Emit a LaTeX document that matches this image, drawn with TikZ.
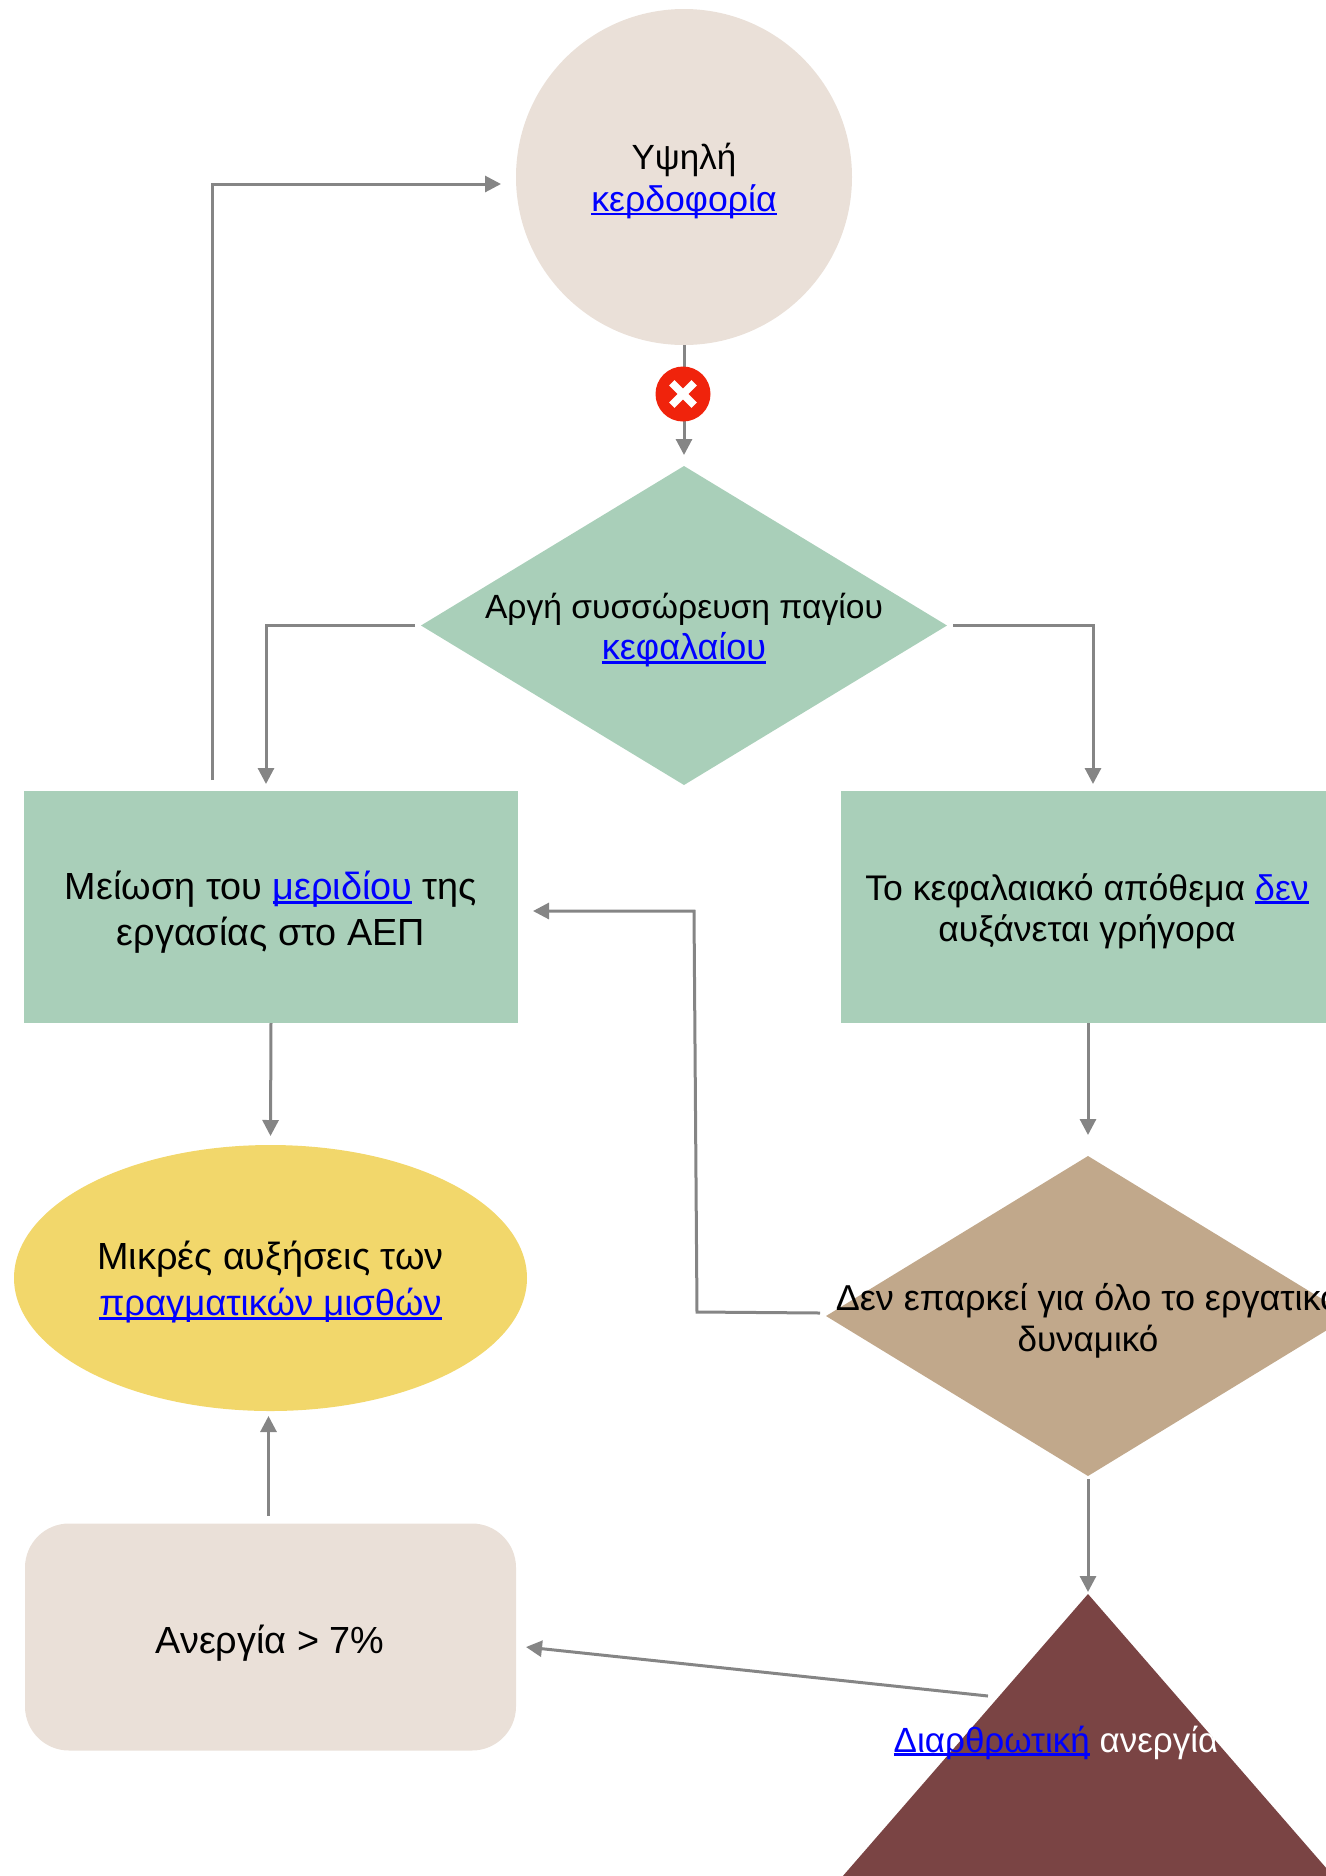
\documentclass[tikz,border=0pt]{standalone}
\usepackage{fontspec}
\setmainfont{Liberation Sans}
\usetikzlibrary{shapes.geometric,arrows.meta}
\definecolor{cgreen}{HTML}{A9CFB9}
\definecolor{cbeige}{HTML}{EAE0D8}
\definecolor{ctan}{HTML}{C1A88B}
\definecolor{cyellow}{HTML}{F2D76B}
\definecolor{cmaroon}{HTML}{7A4444}
\definecolor{cgrey}{HTML}{858585}
\definecolor{cred}{HTML}{F0230C}
\definecolor{clink}{HTML}{0000FF}
\newsavebox{\lnkbox}
\newcommand{\lnk}[1]{\sbox{\lnkbox}{#1}{\color{clink}\rlap{\rule[-0.11em]{\wd\lnkbox}{0.07em}}#1}}
\tikzset{
  shp/.style={inner sep=0pt,outer sep=0pt,draw=none},
  txt/.style={inner sep=0pt,align=center,text=black},
  big/.style={font=\fontsize{18.9}{23}\selectfont},
  small/.style={font=\fontsize{17.5}{20.7}\selectfont},
  conn/.style={draw=cgrey,line width=1.5pt,-{Triangle[width=8pt,length=8pt]}},
}
\begin{document}
\begin{tikzpicture}[x=0.5pt,y=-0.5pt]
\useasboundingbox (0,0) rectangle (1326,1876);
\clip (0,0) rectangle (1326,1876);
% shapes
\node[shp,circle,fill=cbeige,minimum size=168pt] (c) at (684,177) {};
\node[shp,diamond,fill=cgreen,minimum width=263pt,minimum height=159.5pt] (d1) at (684,625.5) {};
\node[shp,rectangle,fill=cgreen,minimum width=247pt,minimum height=116pt] (r1) at (271,907) {};
\node[shp,rectangle,fill=cgreen,minimum width=246pt,minimum height=116pt] (r2) at (1087,907) {};
\node[shp,ellipse,fill=cyellow,minimum width=256.5pt,minimum height=133pt] (e) at (270.5,1278) {};
\node[shp,diamond,fill=ctan,minimum width=262pt,minimum height=160pt] (d2) at (1088,1316) {};
\node[shp,rectangle,rounded corners=22pt,fill=cbeige,minimum width=245.5pt,minimum height=113.5pt] (rr) at (270.5,1637) {};
\coordinate (t) at (1088,1594);
\fill[cmaroon] (t) -- (822,1900) -- (1354,1900) -- cycle;
% texts
\node[txt,small] (ct) at (684,181) {Υψηλή\\{\fontsize{17.8}{20.7}\selectfont\lnk{κερδοφορία}}};
\node[txt,font=\fontsize{18}{20.7}\selectfont] (d1t) at (684,630) {{\fontsize{16.8}{20.7}\selectfont Αργή συσσώρευση παγίου}\\\lnk{κεφαλαίου}};
\node[txt,big] (r1t) at (271,912.5) {Μείωση του \lnk{μεριδίου} της\\εργασίας στο ΑΕΠ};
\node[txt,font=\fontsize{17.8}{20.7}\selectfont] (r2t) at (1087,911) {Το κεφαλαιακό απόθεμα \lnk{δεν}\\αυξάνεται γρήγορα};
\node[txt,big] (et) at (270.5,1282.5) {Μικρές αυξήσεις των\\{\fontsize{18.2}{23}\selectfont\lnk{πραγματικών μισθών}}};
\node[txt,font=\fontsize{18}{20.7}\selectfont] (d2t) at (1088,1320.5) {Δεν επαρκεί για όλο το εργατικό\\{\fontsize{17.5}{20.7}\selectfont δυναμικό}};
\node[txt,big] (rrt) at (270,1643.5) {Ανεργία > 7\%};
\node[txt,small,text=white] (tt) at (1056,1742.5) {\lnk{Διαρθρωτική} ανεργία};
% connectors
\draw[conn] (c.south) -- ([yshift=5.5pt]d1.north);
\node[shp,circle,fill=cred,minimum size=27.5pt] (x) at (683,394) {};
\draw[white,line width=3.8pt] ([xshift=-5.6pt,yshift=-5.6pt]x.center) -- ([xshift=5.6pt,yshift=5.6pt]x.center);
\draw[white,line width=3.8pt] ([xshift=-5.6pt,yshift=5.6pt]x.center) -- ([xshift=5.6pt,yshift=-5.6pt]x.center);
\draw[conn] ([xshift=-3pt]d1.west) -| ([xshift=-2.5pt,yshift=3.5pt]r1.north);
\draw[conn] ([xshift=3pt]d1.east) -| ([xshift=3pt,yshift=3.5pt]r2.north);
\draw[conn] ([xshift=-29.5pt,yshift=5.5pt]r1.north) |- ([xshift=-7.5pt,yshift=-3.5pt]c.west);
\draw[conn] (r1.south) -- ([yshift=4.5pt]e.north);
\draw[conn] (1088,1023) -- ([yshift=10.5pt]d2.north);
\draw[conn] ([xshift=-3pt,yshift=1.5pt]d2.west) -- (697,1312) -- (694,911) -- ([xshift=7.5pt,yshift=-2pt]r1.east);
\draw[conn] ([yshift=-1.5pt]d2.south) -- ([yshift=1pt]t);
\draw[conn] (988,1696) -- ([xshift=5pt,yshift=-5pt]rr.east);
\draw[conn] ([xshift=-1pt,yshift=4pt]rr.north) -- ([xshift=-1pt,yshift=-2.5pt]e.south);
\end{tikzpicture}
\end{document}
